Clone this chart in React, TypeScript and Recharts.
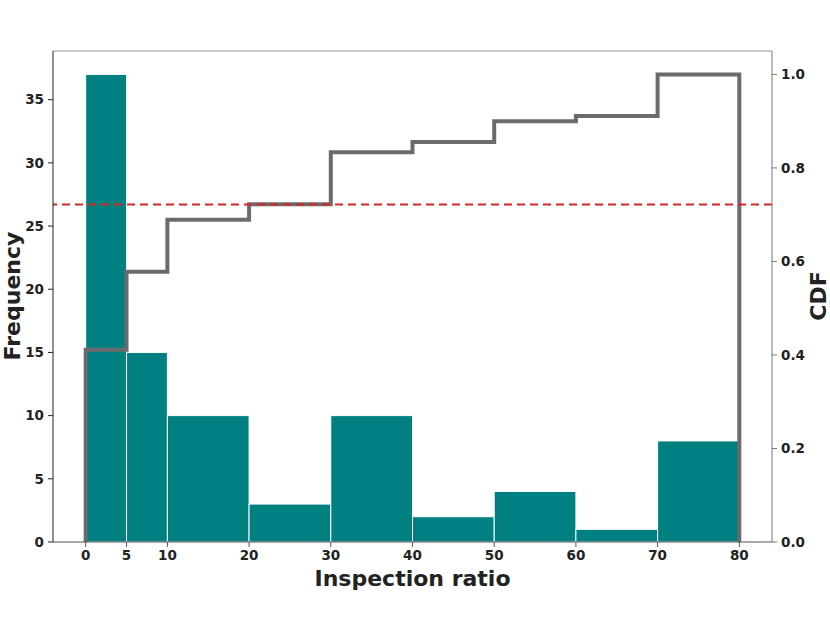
import React from "react";
import {
  ComposedChart,
  Line,
  XAxis,
  YAxis,
  ReferenceArea,
  ReferenceLine,
} from "recharts";

// histogram bins (inspection ratio) and counts
const binEdges = [0, 5, 10, 20, 30, 40, 50, 60, 70, 80];
const counts = [37, 15, 10, 3, 10, 2, 4, 1, 8];
const xTicks = [0, 5, 10, 20, 30, 40, 50, 60, 70, 80];
const freqTicks = [0, 5, 10, 15, 20, 25, 30, 35];
const cdfTicks = [0, 0.2, 0.4, 0.6, 0.8, 1.0];
const threshold = 0.722;

const total = counts.reduce((a, b) => a + b, 0);

// cumulative step points: start at 0, rise at each bin, drop at the end
const cdfData: { x: number; cdf: number }[] = [{ x: binEdges[0], cdf: 0 }];
let running = 0;
counts.forEach((c, i) => {
  running += c;
  cdfData.push({ x: binEdges[i], cdf: running / total });
});
cdfData.push({ x: binEdges[binEdges.length - 1], cdf: 1 });
cdfData.push({ x: binEdges[binEdges.length - 1], cdf: 0 });

const FONT = "DejaVu Sans, sans-serif";
const tickStyle = { fontSize: 13.5, fontWeight: 700, fill: "#222", fontFamily: FONT };
const labelStyle = { fontSize: 22, fontWeight: 700, fontFamily: FONT, fill: "#222" };

export default function App() {
  return (
    <div style={{ position: "absolute", left: 0, top: 0, background: "#fff" }}>
      <ComposedChart
        width={830}
        height={642}
        data={cdfData}
        margin={{ top: 50, right: 0, bottom: 0, left: 0 }}
      >
        <XAxis
          xAxisId="bottom"
          dataKey="x"
          type="number"
          domain={[-4, 84]}
          ticks={xTicks}
          interval={0}
          allowDataOverflow
          height={100}
          tickSize={5}
          tickMargin={3}
          stroke="#555"
          tick={tickStyle}
          label={{
            content: ({ viewBox }: any) => (
              <text
                x={viewBox.x + viewBox.width / 2}
                y={578}
                textAnchor="middle"
                dominantBaseline="central"
                style={labelStyle}
              >
                Inspection ratio
              </text>
            ),
          }}
        />
        <XAxis
          xAxisId="top"
          dataKey="x"
          type="number"
          orientation="top"
          domain={[-4, 84]}
          allowDataOverflow
          height={1}
          tick={false}
          tickLine={false}
          axisLine={{ stroke: "#999", strokeWidth: 1 }}
        />
        <YAxis
          yAxisId="left"
          type="number"
          domain={[0, 38.85]}
          ticks={freqTicks}
          interval={0}
          allowDataOverflow
          width={53}
          tickSize={5}
          tickMargin={4}
          stroke="#222"
          tick={tickStyle}
          label={{
            content: () => (
              <text
                x={12}
                y={296}
                transform="rotate(-90 12 296)"
                textAnchor="middle"
                dominantBaseline="central"
                style={labelStyle}
              >
                Frequency
              </text>
            ),
          }}
        />
        <YAxis
          yAxisId="right"
          orientation="right"
          type="number"
          domain={[0, 1.05]}
          ticks={cdfTicks}
          interval={0}
          allowDataOverflow
          width={58}
          tickSize={5}
          tickMargin={4}
          stroke="#777"
          tick={tickStyle}
          tickFormatter={(v: number) => v.toFixed(1)}
          label={{
            content: () => (
              <text
                x={818}
                y={296}
                transform="rotate(-90 818 296)"
                textAnchor="middle"
                dominantBaseline="central"
                style={labelStyle}
              >
                CDF
              </text>
            ),
          }}
        />
        {counts.map((c, i) => (
          <ReferenceArea
            key={i}
            xAxisId="bottom"
            yAxisId="left"
            x1={binEdges[i]}
            x2={binEdges[i + 1]}
            y1={0}
            y2={c}
            fill="#008080"
            fillOpacity={1}
            stroke="#fff"
            strokeWidth={1}
          />
        ))}
        <Line
          xAxisId="bottom"
          yAxisId="right"
          dataKey="cdf"
          type="stepAfter"
          stroke="#6b6b6b"
          strokeWidth={4}
          dot={false}
          activeDot={false}
          isAnimationActive={false}
        />
        <ReferenceLine
          xAxisId="bottom"
          yAxisId="right"
          y={threshold}
          stroke="#d62728"
          strokeWidth={2}
          strokeDasharray="8 5"
        />
      </ComposedChart>
    </div>
  );
}
